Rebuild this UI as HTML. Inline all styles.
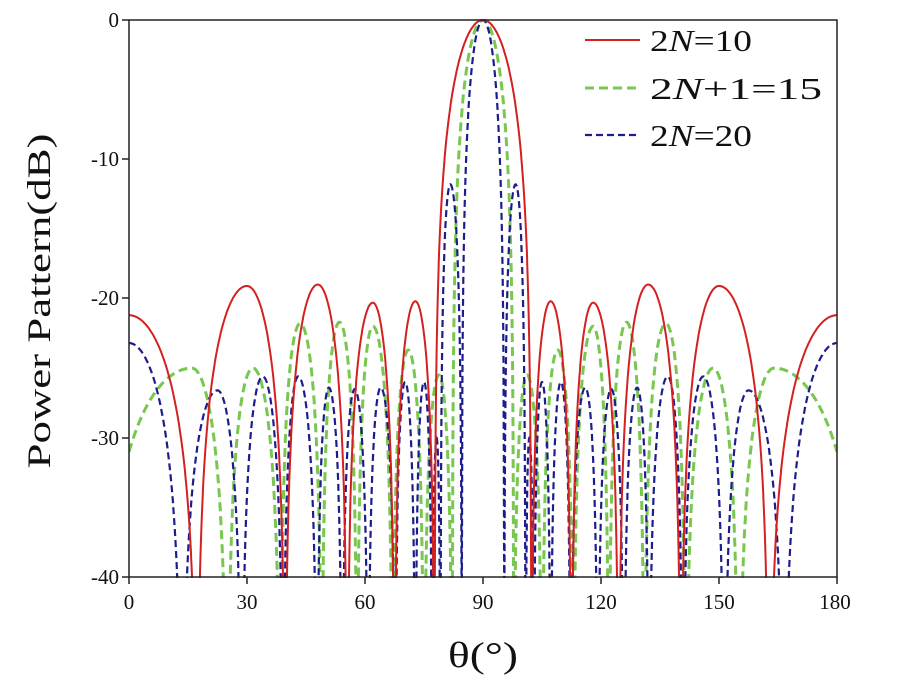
<!DOCTYPE html>
<html><head><meta charset="utf-8"><style>
body{margin:0;background:#fff;}
svg{display:block;}
text{font-family:"Liberation Serif",serif;}
</style></head><body>
<svg id="s" width="900" height="681" xmlns="http://www.w3.org/2000/svg">
<defs><clipPath id="c"><rect x="129" y="19" width="708" height="559"/></clipPath></defs>
<g id="curves" clip-path="url(#c)"></g>
<rect x="129" y="20" width="708" height="557" fill="none" stroke="#222" stroke-width="1.5"/>
<g stroke="#222" stroke-width="1.5">
<line x1="129" y1="577" x2="129" y2="584"/><line x1="247" y1="577" x2="247" y2="584"/><line x1="365" y1="577" x2="365" y2="584"/><line x1="483" y1="577" x2="483" y2="584"/><line x1="601" y1="577" x2="601" y2="584"/><line x1="719" y1="577" x2="719" y2="584"/><line x1="837" y1="577" x2="837" y2="584"/>
<line x1="122" y1="20" x2="129" y2="20"/><line x1="122" y1="159" x2="129" y2="159"/><line x1="122" y1="298" x2="129" y2="298"/><line x1="122" y1="438" x2="129" y2="438"/><line x1="122" y1="577" x2="129" y2="577"/>
</g>
<g font-size="21" text-anchor="middle" fill="#111">
<text x="129" y="609">0</text><text x="247" y="609">30</text><text x="365" y="609">60</text><text x="483" y="609">90</text><text x="601" y="609">120</text><text x="719" y="609">150</text><text x="835" y="609">180</text>
</g>
<g font-size="21" text-anchor="end" fill="#111">
<text x="119" y="27">0</text><text x="119" y="166">-10</text><text x="119" y="305">-20</text><text x="119" y="445">-30</text><text x="119" y="584">-40</text>
</g>
<text transform="translate(50,301) rotate(-90)" font-size="33" text-anchor="middle" fill="#111" textLength="335" lengthAdjust="spacingAndGlyphs">Power Pattern(dB)</text>
<text x="483" y="667" font-size="36" text-anchor="middle" fill="#111" textLength="70" lengthAdjust="spacingAndGlyphs">θ(°)</text>
<line x1="585" y1="40" x2="640" y2="40" stroke="#d42020" stroke-width="2"/>
<line x1="585" y1="88" x2="640" y2="88" stroke="#78c850" stroke-width="3" stroke-dasharray="9,5"/>
<line x1="585" y1="135" x2="640" y2="135" stroke="#1c1c8c" stroke-width="2.2" stroke-dasharray="7,4"/>
<g font-size="31" fill="#111">
<text x="650" y="51" textLength="102" lengthAdjust="spacingAndGlyphs">2<tspan font-style="italic">N</tspan>=10</text>
<text x="650" y="99" textLength="172" lengthAdjust="spacingAndGlyphs">2<tspan font-style="italic">N</tspan>+1=15</text>
<text x="650" y="146" textLength="102" lengthAdjust="spacingAndGlyphs">2<tspan font-style="italic">N</tspan>=20</text>
</g>
</svg>
<script>
function X(t){return 129+t/180*708;}
function Y(d){return 20-d/40*557;}
function mk(nulls,peaks,edge){
  var L=[];L.push(edge);
  for(var i=0;i<nulls.length-1;i++){var a=nulls[i],b=nulls[i+1],c=peaks[i][0]||(a+b)/2;L.push([c,peaks[i][1],c-a,b-c]);}
  var m=nulls[nulls.length-1];L.push([90,0,90-m,90-m]);
  var n=L.length;for(var i=n-2;i>=0;i--){var l=L[i];L.push([180-l[0],l[1],l[3],l[2]]);}
  return L;}
function val(L,t){var best=-100;for(var i=0;i<L.length;i++){var l=L[i];var d=t-l[0];var w=d<0?l[2]:l[3];var u=Math.abs(d)/w;if(u<1){var v=l[1]+20*Math.log10(Math.max(Math.cos(Math.PI/2*u),1e-6));if(v>best)best=v;}}return Math.max(best,-41);}
function path(L){var s="";for(var t=0;t<=180.0001;t+=0.05){s+=(t==0?"M":"L")+X(t).toFixed(1)+","+Y(val(L,t)).toFixed(1);}return s;}
var red=mk([17.3,39.7,55.5,67.5,77.7],[[30,-19.1],[48,-19],[62,-20.3],[72.8,-20.2]],[0,-21.2,17.3,17.3]);
var green=mk([25,38.5,49,58,67,75,82.2],[[31.5,-25],[43.5,-21.8],[53.5,-21.7],[62,-22],[71,-23.7],[78.8,-25.5]],[16,-25,24,9]);
var blue=mk([13.5,28.7,39.2,47.8,54.2,60.8,67.7,72.8,77.1,79.2,84.6],[[22.5,-26.6],[34,-25.6],[43,-25.6],[50.8,-26.4],[57.4,-26.5],[64,-26.4],[70.2,-26],[75,-26],[78.2,-30],[81.7,-11.8]],[0,-23.2,13.5,13.5]);
var g=document.getElementById("curves");
function add(d,col,w,da){var p=document.createElementNS("http://www.w3.org/2000/svg","path");p.setAttribute("d",d);p.setAttribute("fill","none");p.setAttribute("stroke",col);p.setAttribute("stroke-width",w);if(da)p.setAttribute("stroke-dasharray",da);g.appendChild(p);}
add(path(green),"#78c850",3,"9,5");
add(path(blue),"#1c1c8c",2.2,"7,4");
add(path(red),"#d42020",2,null);
</script>
</body></html>
